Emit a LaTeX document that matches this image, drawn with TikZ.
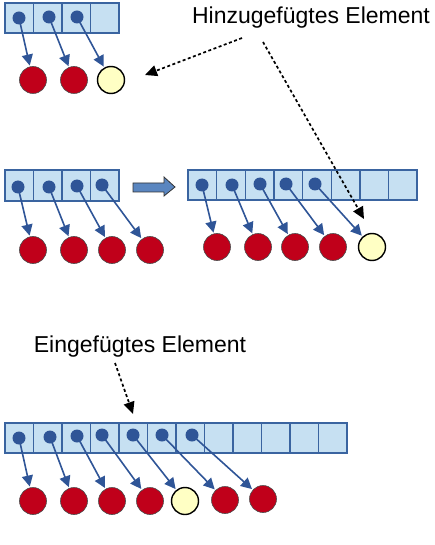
\documentclass[tikz,border=0pt]{standalone}
\usepackage{fontspec}
\setmainfont{Liberation Sans}
\usetikzlibrary{arrows.meta}
\definecolor{cellfill}{HTML}{C6E0F2}
\definecolor{cellline}{HTML}{3A64A0}
\definecolor{ptr}{HTML}{2F5597}
\definecolor{redel}{HTML}{C0001A}
\definecolor{yelel}{HTML}{FFFFC4}
\definecolor{growfill}{HTML}{5A86C0}
\begin{document}
\begin{tikzpicture}[x=1pt,y=-1pt,
  cellbox/.style={draw=cellline,fill=cellfill,line width=1.2pt,minimum width=28.5pt,minimum height=30pt,inner sep=0pt,outer sep=0pt,anchor=north west},
  ptrdot/.style={circle,fill=ptr,minimum size=13pt,inner sep=0pt},
  redball/.style={circle,draw=black!70,line width=0.6pt,fill=redel,minimum size=27pt,inner sep=0pt},
  yelball/.style={circle,draw=black,line width=1.4pt,fill=yelel,minimum size=27pt,inner sep=0pt},
  ptrarrow/.style={draw=ptr,line width=1.6pt,-{Triangle[length=11pt,width=11pt]},shorten >=1pt},
  hint/.style={draw=black,line width=1.7pt,dash pattern=on 3pt off 2.5pt,-{Triangle[length=12pt,width=11pt]}},
  growarrow/.style={draw=black!80,line width=0.8pt,fill=growfill},
  label/.style={font=\fontsize{23}{27}\selectfont,inner sep=0pt}]
\useasboundingbox (0,0) rectangle (435,545);

% ---------- Row 1 ----------
\foreach \i in {1,...,4} \node[cellbox] (a\i) at ({5+28.5*(\i-1)},3) {};
\node[ptrdot] (ad1) at (19,18) {};
\node[ptrdot] (ad2) at (49,17) {};
\node[ptrdot] (ad3) at (77,17) {};
\node[redball] (ae1) at (33,80) {};
\node[redball] (ae2) at (74,80) {};
\node[yelball] (ae3) at (111,80) {};
\foreach \i in {1,2,3} \draw[ptrarrow] (ad\i.center) -- (ae\i);

\node[label] (hinz) at (311,18) {Hinzugefügtes Element};

% ---------- Row 2 left ----------
\foreach \i in {1,...,4} \node[cellbox,minimum height=31pt] (b\i) at ({5+28.5*(\i-1)},170) {};
\node[ptrdot] (bd1) at (18,187) {};
\node[ptrdot] (bd2) at (49,187) {};
\node[ptrdot] (bd3) at (77,186) {};
\node[ptrdot] (bd4) at (102,185) {};
\node[redball] (be1) at (33,250) {};
\node[redball] (be2) at (74,250) {};
\node[redball] (be3) at (112,250) {};
\node[redball] (be4) at (150,250) {};
\foreach \i in {1,...,4} \draw[ptrarrow] (bd\i.center) -- (be\i);

% grow arrow
\draw[growarrow] (133,183) -- (164,183) -- (164,177) -- (175,187) -- (164,196) -- (164,192) -- (133,192) -- cycle;

% ---------- Row 2 right ----------
\foreach \i in {1,...,8} \node[cellbox] (c\i) at ({188+28.65*(\i-1)},170) {};
\node[ptrdot] (cd1) at (202,185) {};
\node[ptrdot] (cd2) at (232,185) {};
\node[ptrdot] (cd3) at (260,184) {};
\node[ptrdot] (cd4) at (286,184) {};
\node[ptrdot] (cd5) at (315,184) {};
\node[redball] (ce1) at (217,247) {};
\node[redball] (ce2) at (258,247) {};
\node[redball] (ce3) at (295,247) {};
\node[redball] (ce4) at (333,247) {};
\node[yelball] (ce5) at (372,247) {};
\foreach \i in {1,...,5} \draw[ptrarrow] (cd\i.center) -- (ce\i);

% hints from top label
\coordinate (h1s) at (242,38);
\coordinate (h1e) at (145,75);
\coordinate (h2s) at (263,42);
\coordinate (h2e) at (364,219);
\draw[hint] (h1s) -- (h1e);
\draw[hint] (h2s) -- (h2e);

% ---------- Row 3 ----------
\node[label] (einf) at (140,347) {Eingefügtes Element};
\coordinate (h3s) at (115,363);
\coordinate (h3e) at (133,414);
\draw[hint] (h3s) -- (h3e);

\foreach \i in {1,...,12} \node[cellbox] (d\i) at ({5+28.5*(\i-1)},423) {};
\node[ptrdot] (dd1) at (19,438) {};
\node[ptrdot] (dd2) at (50,437) {};
\node[ptrdot] (dd3) at (77,436) {};
\node[ptrdot] (dd4) at (102,435) {};
\node[ptrdot] (dd5) at (133,435) {};
\node[ptrdot] (dd6) at (162,435) {};
\node[ptrdot] (dd7) at (192,435) {};
\node[redball] (de1) at (33,501) {};
\node[redball] (de2) at (74,501) {};
\node[redball] (de3) at (112,501) {};
\node[redball] (de4) at (150,501) {};
\node[yelball] (de5) at (185,501) {};
\node[redball] (de6) at (225,500) {};
\node[redball] (de7) at (263,499) {};
\foreach \i in {1,...,7} \draw[ptrarrow] (dd\i.center) -- (de\i);
\end{tikzpicture}
\end{document}
